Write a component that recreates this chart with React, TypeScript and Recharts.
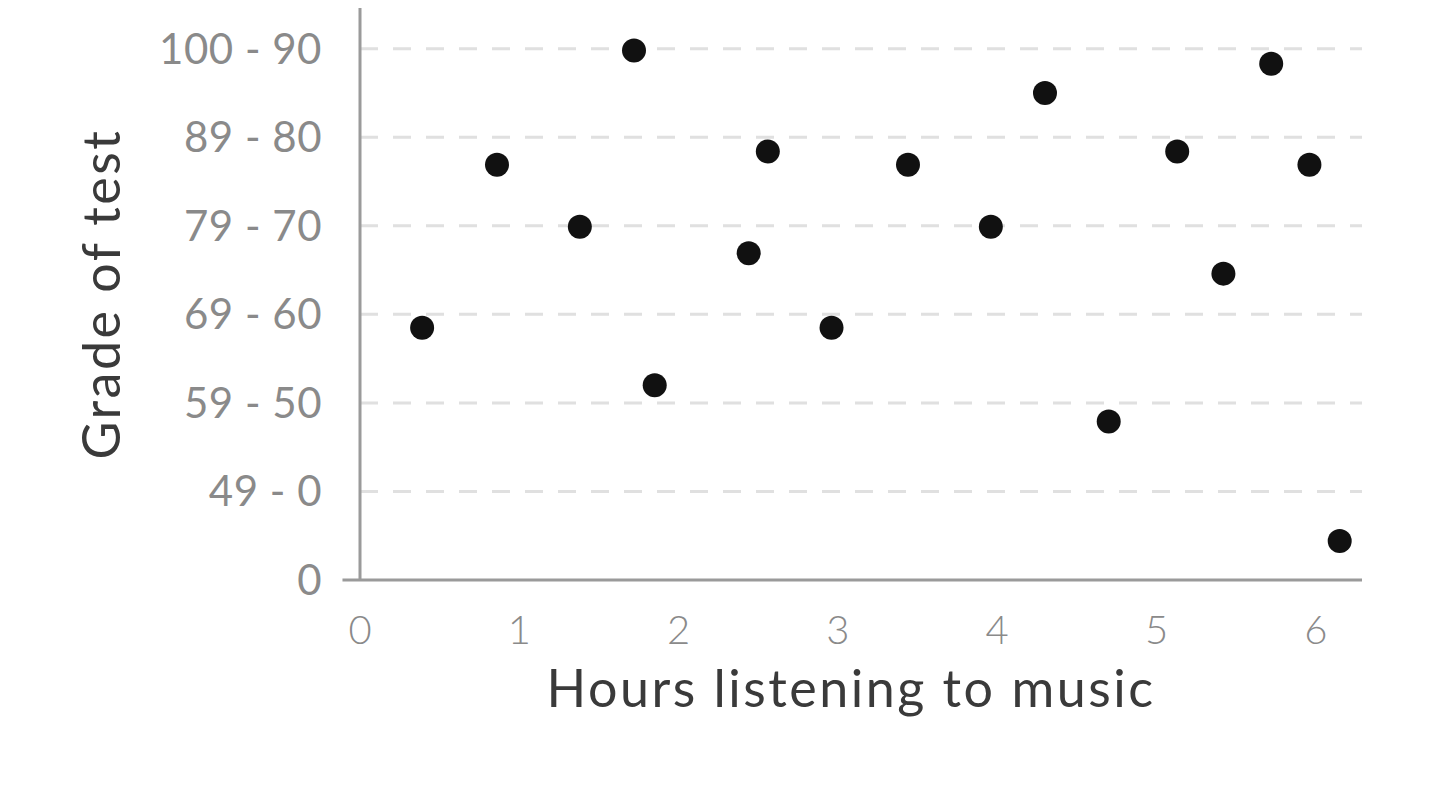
import React from 'react';
import { ScatterChart, Scatter, XAxis, YAxis, CartesianGrid, ReferenceLine, Label } from 'recharts';

const hours = [0.39, 0.86, 1.38, 1.72, 1.85, 2.44, 2.56, 2.96, 3.44, 3.96, 4.30, 4.70, 5.13, 5.42, 5.72, 5.96, 6.15];
const grades = [2.85, 4.69, 3.99, 5.98, 2.20, 3.69, 4.84, 2.85, 4.69, 3.99, 5.50, 1.79, 4.84, 3.46, 5.83, 4.69, 0.44];
const gradeLabels = ['0', '49 - 0', '59 - 50', '69 - 60', '79 - 70', '89 - 80', '100 - 90'];
const hourTicks = [0, 1, 2, 3, 4, 5, 6];
const gradeTicks = [0, 1, 2, 3, 4, 5, 6];

const data = hours.map((h, i) => ({ x: h, y: grades[i] }));

const FONT = 'Lato, "Open Sans", sans-serif';
const TICK_COLOR = '#8a8a8a';
const TITLE_COLOR = '#3a3a3a';
const AXIS_COLOR = '#9a9a9a';

const Dot = (props: any) => {
  const { cx, cy } = props;
  return <circle cx={cx} cy={cy} r={12} fill="#111" />;
};

const YTitle = () => {
  const cx = 100;
  const cy = 8 + 572 / 2;
  return (
    <text
      x={cx}
      y={cy}
      transform={`rotate(-90 ${cx} ${cy})`}
      textAnchor="middle"
      dominantBaseline="central"
      fontFamily={FONT}
      fontSize={52}
      letterSpacing={2.5}
      fill={TITLE_COLOR}
    >
      Grade of test
    </text>
  );
};

const XTitle = (props: any) => {
  const vb = props.viewBox || {};
  const cx = vb.x + vb.width / 2 - 10;
  const cy = vb.y + 107;
  return (
    <text
      x={cx}
      y={cy}
      textAnchor="middle"
      dominantBaseline="central"
      fontFamily={FONT}
      fontSize={52}
      letterSpacing={2.5}
      fill={TITLE_COLOR}
    >
      Hours listening to music
    </text>
  );
};

export default function App() {
  return (
    <div style={{ position: 'absolute', left: 0, top: 0, width: 1440, height: 812, background: '#fff' }}>
      <ScatterChart width={1440} height={812} margin={{ top: 8, right: 78, bottom: 0, left: 0 }}>
        <CartesianGrid
          vertical={false}
          horizontalValues={[1, 2, 3, 4, 5, 6]}
          stroke="#e0e0e0"
          strokeWidth={3}
          strokeDasharray="18 15"
        />
        <XAxis
          type="number"
          dataKey="x"
          domain={[0, 6.29]}
          ticks={hourTicks}
          allowDataOverflow
          axisLine={false}
          tickLine={false}
          tickSize={0}
          tickMargin={36}
          tick={{ fill: TICK_COLOR, fontFamily: FONT, fontSize: 40, fontWeight: 300 }}
          height={232}
        >
          <Label content={<XTitle />} />
        </XAxis>
        <YAxis
          type="number"
          dataKey="y"
          domain={[0, 6.46]}
          ticks={gradeTicks}
          allowDataOverflow
          tickFormatter={(v: number) => gradeLabels[v]}
          axisLine={{ stroke: AXIS_COLOR, strokeWidth: 3 }}
          tickLine={false}
          tickSize={0}
          tickMargin={38}
          tick={{ fill: TICK_COLOR, fontFamily: FONT, fontSize: 42, fontWeight: 400, letterSpacing: 0.5 }}
          width={360}
        >
          <Label content={<YTitle />} />
        </YAxis>
        <ReferenceLine
          segment={[{ x: -0.11, y: 0 }, { x: 6.29, y: 0 }]}
          stroke={AXIS_COLOR}
          strokeWidth={3}
          ifOverflow="visible"
        />
        <Scatter data={data} shape={<Dot />} isAnimationActive={false} />
      </ScatterChart>
    </div>
  );
}
